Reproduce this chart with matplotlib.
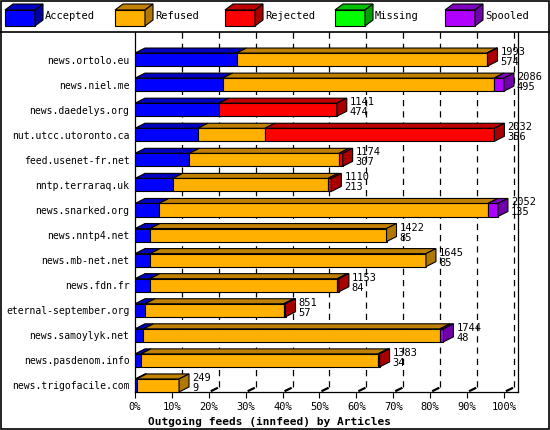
import matplotlib.pyplot as plt
from matplotlib.patches import Polygon, Rectangle

plt.rcParams['font.family'] = 'DejaVu Sans Mono'

hosts = ["news.ortolo.eu", "news.niel.me", "news.daedelys.org", "nut.utcc.utoronto.ca",
         "feed.usenet-fr.net", "nntp.terraraq.uk", "news.snarked.org", "news.nntp4.net",
         "news.mb-net.net", "news.fdn.fr", "eternal-september.org", "news.samoylyk.net",
         "news.pasdenom.info", "news.trigofacile.com"]
totals   = [1993, 2086, 1141, 2032, 1174, 1110, 2052, 1422, 1645, 1153, 851, 1744, 1383, 249]
accepted = [574, 495, 474, 356, 307, 213, 135, 85, 85, 84, 57, 48, 34, 9]
refused  = [1416, 1535, 0, 379, 846, 878, 1860, 1337, 1560, 1059, 784, 1676, 1339, 240]
rejected = [3, 0, 667, 1297, 21, 19, 0, 0, 0, 10, 10, 0, 10, 0]
missing  = [0] * 14
spooled  = [0, 56, 0, 0, 0, 0, 57, 0, 0, 0, 0, 20, 0, 0]

series = ["Accepted", "Refused", "Rejected", "Missing", "Spooled"]
fronts = ["#0000ff", "#ffb000", "#ff0000", "#00ff00", "#b000ff"]
tops   = ["#0000c0", "#c08000", "#c00000", "#00c000", "#8000c0"]
sides  = ["#0000a0", "#b07800", "#a80000", "#00a000", "#7000a8"]

vmax = max(totals)
dx, dy, h = 2.7, 0.2, 0.52

fig = plt.figure(figsize=(5.5, 4.3), dpi=100)
ax = fig.add_axes([135/550, (430-392)/430, (518-135)/550, (392-32)/430])
ax.set_xlim(0, 103.8)
ax.set_ylim(-13.26, 1.1)

# grid on back wall
for p in range(10, 101, 10):
    ax.plot([p + dx, p + dx], [-13.26 + dy, 1.1], color='black', ls=(0, (5, 4)), lw=0.9, zorder=0)
    ax.plot([p + 0.8, p + dx - 0.5], [-13.26 + 0.05, -13.26 + dy - 0.05], color='black', lw=1.6, zorder=0, clip_on=False)

data = [accepted, refused, rejected, missing, spooled]
for i in range(len(hosts)):
    y = -i
    left = 0.0
    segs = []
    for k in range(5):
        w = data[k][i] / vmax * 100
        if w > 0:
            segs.append((k, left, w))
        left += w
    for k, l, w in segs:
        ax.add_patch(Rectangle((l, y - h/2), w, h, fc=fronts[k], ec='black', lw=0.8, zorder=3))
        ax.add_patch(Polygon([(l, y + h/2), (l + dx, y + h/2 + dy), (l + w + dx, y + h/2 + dy),
                              (l + w, y + h/2)], fc=tops[k], ec='black', lw=0.8, zorder=3))
    k, l, w = segs[-1]
    end = l + w
    ax.add_patch(Polygon([(end, y - h/2), (end + dx, y - h/2 + dy), (end + dx, y + h/2 + dy),
                          (end, y + h/2)], fc=sides[k], ec='black', lw=0.8, zorder=3))
    ax.text(end + dx + 0.8, y + 0.1, str(totals[i]), fontsize=7.5, va='bottom', ha='left', zorder=4)
    ax.text(end + dx + 0.8, y + 0.1, str(accepted[i]), fontsize=7.5, va='top', ha='left', zorder=4)

ax.set_yticks([-i for i in range(len(hosts))])
ax.set_yticklabels(hosts, fontsize=7)
ax.set_xticks(range(0, 101, 10))
ax.set_xticklabels([f"{p}%" for p in range(0, 101, 10)], fontsize=7.5)
ax.tick_params(axis='y', length=0, pad=4)
ax.tick_params(axis='x', length=4, direction='out')
ax.spines['top'].set_visible(False)
for s in ['right', 'left', 'bottom']:
    ax.spines[s].set_linewidth(0.9)
ax.set_xlabel("Outgoing feeds (innfeed) by Articles", fontsize=8, fontweight='bold', labelpad=1)
ax.xaxis.set_label_coords(0.35, -0.07)

# legend strip
for k, name in enumerate(series):
    x0 = (5 + 110 * k) / 550
    y0 = 1 - 26 / 430
    bw, bh, ox, oy = 30 / 550, 16 / 430, 8 / 550, 6 / 430
    fig.patches.append(Rectangle((x0, y0), bw, bh, transform=fig.transFigure, fc=fronts[k], ec='black', lw=0.8))
    fig.patches.append(Polygon([(x0, y0 + bh), (x0 + ox, y0 + bh + oy), (x0 + bw + ox, y0 + bh + oy), (x0 + bw, y0 + bh)],
                               transform=fig.transFigure, fc=tops[k], ec='black', lw=0.8))
    fig.patches.append(Polygon([(x0 + bw, y0), (x0 + bw + ox, y0 + oy), (x0 + bw + ox, y0 + bh + oy), (x0 + bw, y0 + bh)],
                               transform=fig.transFigure, fc=sides[k], ec='black', lw=0.8))
    fig.text(x0 + 40 / 550, y0 + bh / 2 + 2 / 430, name, fontsize=7.5, va='center')

fig.add_artist(plt.Line2D([0, 1], [1 - 32 / 430] * 2, color='black', lw=1.2))
fig.add_artist(Rectangle((0.002, 0.002), 0.996, 0.996, transform=fig.transFigure, fill=False, ec='black', lw=1.2))

fig.savefig("out.png", dpi=100)
